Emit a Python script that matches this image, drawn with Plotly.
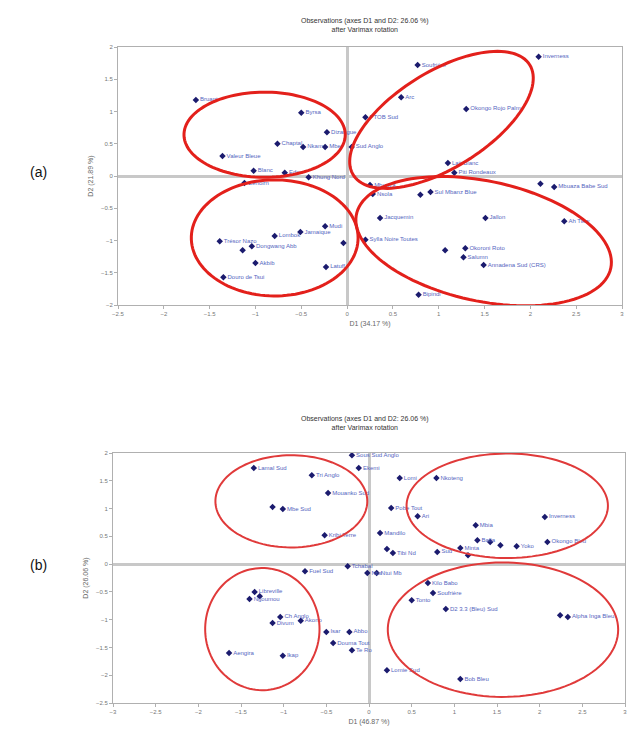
import numpy as np
import plotly.graph_objects as go

# ---------------- data: chart (a) ----------------
a_labels = ["Bruant", "Byrsa", "Dizangue", "Chaptal", "Nkam", "Mbe", "Valeur Bleue",
            "Blanc", "Edea", "Khung Nord", "Soufrière", "Inverness", "Arc", "Okongo Rojo Palm",
            "PTOB Sud", "Sud Anglo", "Lait Blanc", "Piti Rondeaux", "Mbuaza", "",
            "Nsola", "", "Sul Mbanz Blue", "Mbuaza Babe Sud", "Jacquemin", "Jallon",
            "Ah Tikw", "Sylla Noire Toutes", "", "Okoroni Roto", "Salumn",
            "Annadena Sud (CRS)", "Bipindi", "Zenoirn", "Mudi", "Jamaique", "Lombok",
            "Trésor Nazo", "", "Dongwang Abb", "", "Akbib", "Latuff", "Douro de Tsui"]
a_x = [-1.65, -0.50, -0.22, -0.76, -0.48, -0.24, -1.36, -1.02, -0.68, -0.42,
       0.77, 2.09, 0.59, 1.30, 0.20, 0.05, 1.10, 1.17, 0.25, 2.11,
       0.28, 0.80, 0.91, 2.26, 0.36, 1.51, 2.37, 0.20, 1.07, 1.29,
       1.27, 1.49, 0.78, -1.12, -0.24, -0.51, -0.79, -1.39, -1.14, -1.04,
       -0.04, -1.00, -0.23, -1.35]
a_y = [1.18, 0.98, 0.68, 0.50, 0.45, 0.45, 0.31, 0.08, 0.05, -0.02,
       1.72, 1.85, 1.22, 1.04, 0.91, 0.45, 0.20, 0.05, -0.14, -0.12,
       -0.28, -0.29, -0.25, -0.17, -0.65, -0.65, -0.70, -0.99, -1.15, -1.12,
       -1.26, -1.38, -1.84, -0.11, -0.78, -0.87, -0.93, -1.01, -1.15, -1.09,
       -1.04, -1.35, -1.41, -1.57]

# ---------------- data: chart (b) ----------------
b_labels = ["Lamal Sud", "Tri Anglo", "Mouanko Sud", "", "Mbe Sud", "Kribi Terre",
            "Sous Sud Anglo", "Ekemi", "Lomi", "Nkoteng", "Pobe Tout", "Ari", "Inverness",
            "Mbia", "Mandilo", "Bafia", "", "", "Yoko", "Okongo Bleu", "Minta",
            "Sud", "", "", "Tibi Nd", "Fuel Sud", "Tchabal", "Ntui",
            "Libreville", "", "Ngoumou", "Ch Anglo", "Divum", "Akono", "Isar",
            "Abbo", "Douma Tout", "Te Ro", "Aengira", "Ikap", "Ntui Mb", "Kilo Babo",
            "Soufrière", "Tonto", "D2 3.3 (Bleu) Sud", "", "Alpha Inga Bleu",
            "Lomie Sud", "Bob Bleu"]
b_x = [-1.35, -0.67, -0.48, -1.13, -1.01, -0.52, -0.20, -0.12, 0.36, 0.79,
       0.26, 0.57, 2.06, 1.25, 0.13, 1.27, 1.42, 1.54, 1.73, 2.09,
       1.07, 0.80, 1.16, 0.21, 0.28, -0.75, -0.25, -0.02, -1.34, -1.28,
       -1.40, -1.04, -1.13, -0.80, -0.50, -0.23, -0.42, -0.20, -1.64, -1.01,
       0.09, 0.69, 0.75, 0.50, 0.90, 2.24, 2.33, 0.21, 1.07]
b_y = [1.73, 1.60, 1.28, 1.03, 0.99, 0.52, 1.96, 1.73, 1.55, 1.55,
       1.01, 0.86, 0.85, 0.70, 0.56, 0.43, 0.40, 0.34, 0.32, 0.40,
       0.29, 0.22, 0.16, 0.27, 0.20, -0.13, -0.04, -0.16, -0.50, -0.58,
       -0.63, -0.95, -1.06, -1.02, -1.22, -1.22, -1.42, -1.55, -1.60, -1.65,
       -0.16, -0.34, -0.52, -0.65, -0.81, -0.92, -0.95, -1.91, -2.07]

# axis ticks
a_xticks = [-2.5, -2, -1.5, -1, -0.5, 0, 0.5, 1, 1.5, 2, 2.5, 3]
a_yticks = [-2, -1.5, -1, -0.5, 0, 0.5, 1, 1.5, 2]
b_xticks = [-3, -2.5, -2, -1.5, -1, -0.5, 0, 0.5, 1, 1.5, 2, 2.5, 3]
b_yticks = [-2.5, -2, -1.5, -1, -0.5, 0, 0.5, 1, 1.5, 2]

# group ellipses: centre (data), semi-axes, rotation deg (rotated ones use screen px)
a_ellipses = [(-0.90, 0.64, 0.88, 0.66, 0), (1.03, 0.87, 104, 48, 32),
              (-0.79, -0.96, 0.91, 0.90, 0), (1.49, -1.01, 130, 60, -12)]
b_ellipses = [(-0.91, 1.13, 0.89, 0.83, 0), (1.62, 1.05, 1.18, 0.94, 0),
              (-1.25, -1.17, 0.67, 1.10, 0), (1.57, -1.18, 1.35, 1.21, 0)]

W, H = 632, 736
A_PX = (118, 622, 47, 305)   # left, right, top, bottom of plot area (a)
B_PX = (113, 625, 453, 703)


def ellipse_path(cx, cy, ra, rb, ang, sx, sy):
    t = np.linspace(0, 2 * np.pi, 120)
    if ang == 0:
        xs = cx + ra * np.cos(t)
        ys = cy + rb * np.sin(t)
    else:
        th = np.deg2rad(ang)
        dx = ra * np.cos(t) * np.cos(th) - rb * np.sin(t) * np.sin(th)
        dy = ra * np.cos(t) * np.sin(th) + rb * np.sin(t) * np.cos(th)
        xs = cx + dx / sx
        ys = cy + dy / sy
    return "M " + " L ".join(f"{x:.4f},{y:.4f}" for x, y in zip(xs, ys)) + " Z"


fig = go.Figure()
mk = dict(symbol="diamond", size=5, color="#1b1b6e")
tf = dict(family="Liberation Sans", size=6, color="#5565c0")
fig.add_trace(go.Scatter(x=a_x, y=a_y, mode="markers+text", text=a_labels,
                         textposition="middle right", marker=mk, textfont=tf,
                         xaxis="x", yaxis="y", cliponaxis=True, showlegend=False))
fig.add_trace(go.Scatter(x=b_x, y=b_y, mode="markers+text", text=b_labels,
                         textposition="middle right", marker=mk, textfont=tf,
                         xaxis="x2", yaxis="y2", cliponaxis=True, showlegend=False))


def dom_x(p):
    return [p[0] / W, p[1] / W]


def dom_y(p):
    return [1 - p[3] / H, 1 - p[2] / H]


ax_common = dict(showgrid=False, zeroline=True, zerolinecolor="#c8c8c8", zerolinewidth=3,
                 showline=True, linecolor="#b0b0b0", linewidth=1, mirror=True,
                 ticks="outside", ticklen=3, tickcolor="#b0b0b0", automargin=False,
                 tickfont=dict(family="Liberation Sans", size=6, color="#777777"),
                 title_font=dict(family="Liberation Sans", size=7, color="#666666"))

fig.update_layout(
    width=W, height=H, margin=dict(l=0, r=0, t=0, b=0, autoexpand=False),
    paper_bgcolor="white", plot_bgcolor="white", showlegend=False,
    xaxis=dict(ax_common, domain=dom_x(A_PX), range=[-2.5, 3], tickvals=a_xticks,
               anchor="y", title=dict(text="D1 (34.17 %)", standoff=4)),
    yaxis=dict(ax_common, domain=dom_y(A_PX), range=[-2, 2], tickvals=a_yticks,
               anchor="x", title=dict(text="D2 (21.89 %)", standoff=6)),
    xaxis2=dict(ax_common, domain=dom_x(B_PX), range=[-3, 3], tickvals=b_xticks,
                anchor="y2", title=dict(text="D1 (46.87 %)", standoff=4)),
    yaxis2=dict(ax_common, domain=dom_y(B_PX), range=[-2.5, 2], tickvals=b_yticks,
                anchor="x2", title=dict(text="D2 (26.06 %)", standoff=6)),
)

sxa = (A_PX[1] - A_PX[0]) / (3 - (-2.5))
sya = (A_PX[3] - A_PX[2]) / (2 - (-2))
for cx, cy, ra, rb, ang in a_ellipses:
    fig.add_shape(type="path", xref="x", yref="y",
                  path=ellipse_path(cx, cy, ra, rb, ang, sxa, sya),
                  line=dict(color="#e3201b", width=3))
sxb = (B_PX[1] - B_PX[0]) / 6
syb = (B_PX[3] - B_PX[2]) / 4.5
for cx, cy, ra, rb, ang in b_ellipses:
    fig.add_shape(type="path", xref="x2", yref="y2",
                  path=ellipse_path(cx, cy, ra, rb, ang, sxb, syb),
                  line=dict(color="#e03a3a", width=2))

title_font = dict(family="Liberation Sans", size=7, color="#333333")
for ytop in (15, 413):
    fig.add_annotation(x=365 / W, y=1 - ytop / H, xref="paper", yref="paper",
                       text="Observations (axes D1 and D2: 26.06 %)<br>after Varimax rotation",
                       showarrow=False, font=title_font, yanchor="top", xanchor="center")

for txt, yp in (("(a)", 172), ("(b)", 565)):
    fig.add_annotation(x=28 / W, y=1 - yp / H, xref="paper", yref="paper", text=txt,
                       showarrow=False, xanchor="left", yanchor="middle",
                       font=dict(family="Liberation Sans", size=14, color="#111111"))

fig.write_html("out.html", config={"displayModeBar": False},
               post_script="document.body.style.margin='0';document.body.style.overflow='hidden';")
